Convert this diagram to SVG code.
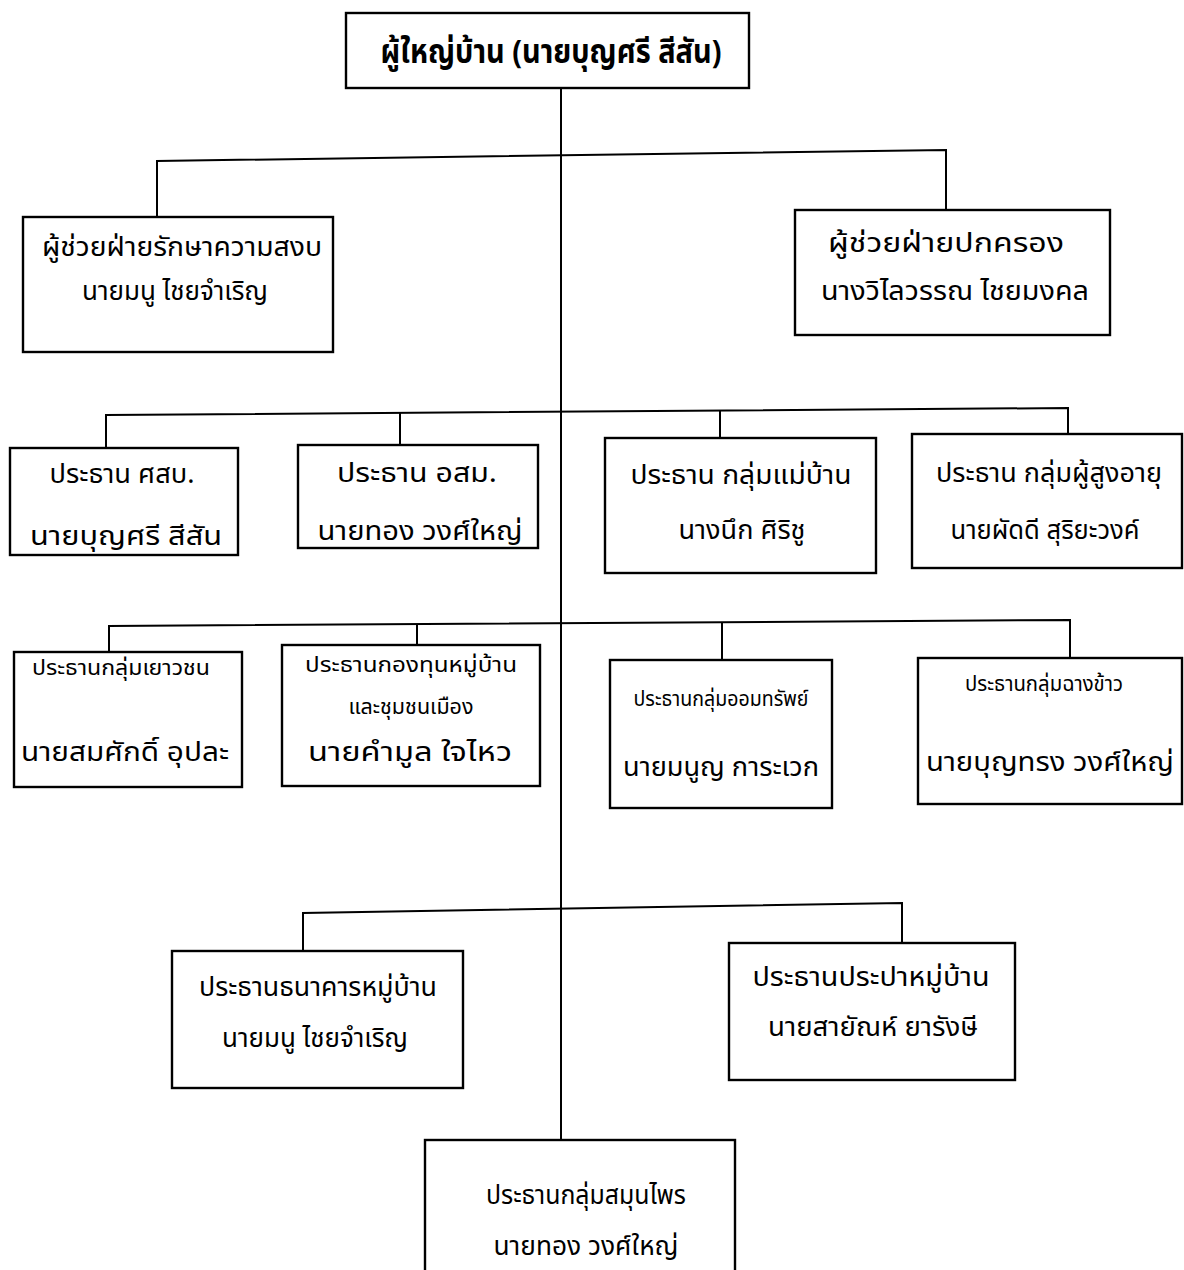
<svg xmlns="http://www.w3.org/2000/svg" width="1184" height="1270" viewBox="0 0 1184 1270">
<style>
.box{fill:#fff;stroke:#000;stroke-width:2.4}
.ln{fill:none;stroke:#000;stroke-width:2}
text{font-family:"Noto Sans Thai","Noto Sans","DejaVu Sans",sans-serif;font-size:27px;text-anchor:middle;fill:#000}
.t{font-size:33px;font-weight:bold}
.s{font-size:22px}
</style>
<rect width="1184" height="1270" fill="#fff"/>
<g id="connectors">
<line class="ln" x1="561" y1="88" x2="561" y2="1140"/>
<polyline class="ln" points="157,217 157,161 946,150 946,212"/>
<polyline class="ln" points="106,448 106,415 1068,408 1068,434"/>
<line class="ln" x1="400" y1="413" x2="400" y2="445"/>
<line class="ln" x1="720" y1="411" x2="720" y2="438"/>
<polyline class="ln" points="109,652 109,626 1070,620 1070,658"/>
<line class="ln" x1="417" y1="624" x2="417" y2="645"/>
<line class="ln" x1="722" y1="622" x2="722" y2="660"/>
<polyline class="ln" points="303,951 303,913 902,903 902,943"/>
</g>
<g id="n-head"><rect class="box" x="346" y="13" width="403" height="75"/><text class="t" x="551" y="63" textLength="341" lengthAdjust="spacingAndGlyphs">ผู้ใหญ่บ้าน (นายบุญศรี  สีสัน)</text></g>
<g id="n-security"><rect class="box" x="23" y="217" width="310" height="135"/><text x="182" y="256" textLength="280" lengthAdjust="spacingAndGlyphs">ผู้ช่วยฝ่ายรักษาความสงบ</text><text x="175" y="300" textLength="186" lengthAdjust="spacingAndGlyphs">นายมนู ไชยจำเริญ</text></g>
<g id="n-admin"><rect class="box" x="795" y="210" width="315" height="125"/><text x="946" y="252" textLength="236" lengthAdjust="spacingAndGlyphs">ผู้ช่วยฝ่ายปกครอง</text><text x="955" y="300" textLength="268" lengthAdjust="spacingAndGlyphs">นางวิไลวรรณ ไชยมงคล</text></g>
<g id="n-sorsorbor"><rect class="box" x="10" y="448" width="228" height="107"/><text x="122" y="483" textLength="145" lengthAdjust="spacingAndGlyphs">ประธาน ศสบ.</text><text x="126" y="545" textLength="192" lengthAdjust="spacingAndGlyphs">นายบุญศรี  สีสัน</text></g>
<g id="n-osm"><rect class="box" x="298" y="445" width="240" height="103"/><text x="417" y="482" textLength="160" lengthAdjust="spacingAndGlyphs">ประธาน อสม.</text><text x="420" y="540" textLength="205" lengthAdjust="spacingAndGlyphs">นายทอง  วงศ์ใหญ่</text></g>
<g id="n-housewife"><rect class="box" x="605" y="438" width="271" height="135"/><text x="741" y="484" textLength="221" lengthAdjust="spacingAndGlyphs">ประธาน กลุ่มแม่บ้าน</text><text x="742" y="539" textLength="127" lengthAdjust="spacingAndGlyphs">นางนึก  ศิริชู</text></g>
<g id="n-elder"><rect class="box" x="912" y="434" width="270" height="134"/><text x="1049" y="482" textLength="226" lengthAdjust="spacingAndGlyphs">ประธาน กลุ่มผู้สูงอายุ</text><text x="1045" y="539" textLength="189" lengthAdjust="spacingAndGlyphs">นายผัดดี  สุริยะวงค์</text></g>
<g id="n-youth"><rect class="box" x="14" y="652" width="228" height="135"/><text class="s" x="121" y="675" textLength="178" lengthAdjust="spacingAndGlyphs">ประธานกลุ่มเยาวชน</text><text x="125" y="761" textLength="208" lengthAdjust="spacingAndGlyphs">นายสมศักดิ์ อุปละ</text></g>
<g id="n-fund"><rect class="box" x="282" y="645" width="258" height="141"/><text class="s" x="411" y="672" textLength="212" lengthAdjust="spacingAndGlyphs">ประธานกองทุนหมู่บ้าน</text><text class="s" x="411" y="714" textLength="125" lengthAdjust="spacingAndGlyphs">และชุมชนเมือง</text><text x="410" y="761" textLength="204" lengthAdjust="spacingAndGlyphs">นายคำมูล ใจไหว</text></g>
<g id="n-saving"><rect class="box" x="610" y="660" width="222" height="148"/><text class="s" x="721" y="706" textLength="175" lengthAdjust="spacingAndGlyphs">ประธานกลุ่มออมทรัพย์</text><text x="721" y="776" textLength="196" lengthAdjust="spacingAndGlyphs">นายมนูญ การะเวก</text></g>
<g id="n-rice"><rect class="box" x="918" y="658" width="264" height="146"/><text class="s" x="1044" y="691" textLength="158" lengthAdjust="spacingAndGlyphs">ประธานกลุ่มฉางข้าว</text><text x="1050" y="771" textLength="248" lengthAdjust="spacingAndGlyphs">นายบุญทรง วงศ์ใหญ่</text></g>
<g id="n-bank"><rect class="box" x="172" y="951" width="291" height="137"/><text x="318" y="996" textLength="238" lengthAdjust="spacingAndGlyphs">ประธานธนาคารหมู่บ้าน</text><text x="315" y="1047" textLength="186" lengthAdjust="spacingAndGlyphs">นายมนู ไชยจำเริญ</text></g>
<g id="n-water"><rect class="box" x="729" y="943" width="286" height="137"/><text x="871" y="986" textLength="237" lengthAdjust="spacingAndGlyphs">ประธานประปาหมู่บ้าน</text><text x="873" y="1036" textLength="210" lengthAdjust="spacingAndGlyphs">นายสายัณห์ ยารังษี</text></g>
<g id="n-herb"><rect class="box" x="425" y="1140" width="310" height="140"/><text x="586" y="1204" textLength="200" lengthAdjust="spacingAndGlyphs">ประธานกลุ่มสมุนไพร</text><text x="586" y="1255" textLength="185" lengthAdjust="spacingAndGlyphs">นายทอง วงศ์ใหญ่</text></g>
</svg>
